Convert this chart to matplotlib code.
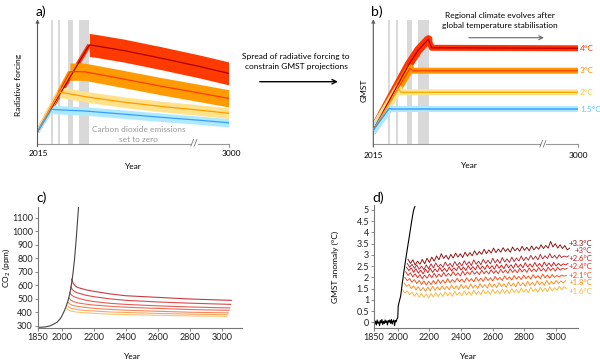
import matplotlib.pyplot as plt
import numpy as np
from matplotlib.patches import FancyArrowPatch
from matplotlib.ticker import FormatStrFormatter

plt.rcParams['font.family'] = ['Lato', 'DejaVu Sans']
plt.rcParams['mathtext.default'] = 'regular'

W, H = 600, 361
AXIS = '#555555'
LIGHT = '#999999'
BAR = '#d9d9d9'

# ---------- panel a: schematic radiative forcing (arbitrary units 0-100) ----------
a_bar_start = [6.9, 10.9, 16.1, 21.9]
a_bar_end = [7.9, 11.9, 18.7, 27.0]

a_blue_x = [0, 7.4, 9.5, 25, 45, 65, 85, 100]
a_blue_y = [9.6, 27.7, 27.4, 26.3, 23.8, 21.2, 18.8, 16.8]
a_yel_x = [0, 11.4, 14, 25, 45, 65, 85, 100]
a_yel_y = [9.6, 41.5, 41.0, 37.9, 33.5, 30.0, 27.0, 24.5]
a_org_x = [0, 17, 21, 25, 45, 65, 85, 100]
a_org_y = [9.6, 58.1, 58.2, 58.0, 52.2, 46.3, 40.8, 36.6]
a_red_x = [0, 27.1, 30, 45, 65, 85, 100]
a_red_y = [9.6, 79.8, 79.2, 75.3, 69.0, 62.3, 56.8]
a_halfwidth = [3.4, 4.3, 7.0, 9.3]   # blue, yellow, orange, red

# ---------- panel b: schematic GMST ----------
b_bar_start = [7.3, 11.1, 16.4, 22.0]
b_bar_end = [8.3, 12.2, 19.1, 27.2]

b_blue_x = [0, 7.8, 8.8, 100]
b_blue_y = [11.3, 28.8, 28.2, 28.2]
b_yel_x = [0, 12.2, 13.5, 100]
b_yel_y = [11.3, 44.4, 41.7, 41.7]
b_org_x = [0, 17.9, 19.5, 100]
b_org_y = [11.3, 61.0, 59.1, 59.1]
b_red_x = [0, 17.2, 22.0, 25.3, 26.9, 28.5, 100]
b_red_y = [11.3, 63.7, 75.8, 81.7, 84.4, 77.6, 77.2]
b_labels = ['1.5°C', '2°C', '3°C', '4°C']

# ---------- panel c: CO2 concentration ----------
c_hist_years = [1850, 1875, 1900, 1925, 1950, 1970, 1990, 2000, 2010, 2020, 2030,
                2040, 2050, 2060, 2070, 2080, 2090, 2100, 2105]
c_hist_ppm = [288, 289, 292, 298, 312, 325, 350, 370, 394, 420, 452,
              488, 535, 598, 682, 790, 930, 1090, 1175]

c_years_1 = [2062, 2072, 2087, 2100, 2150, 2200, 2300, 2400, 2600, 2800, 3000, 3060]
c_ppm_1 = [645, 615, 592, 583, 566, 555, 536, 522, 510, 498, 490, 488]
c_years_2 = [2056, 2066, 2081, 2100, 2150, 2200, 2300, 2400, 2600, 2800, 3000, 3056]
c_ppm_2 = [590, 568, 552, 543, 526, 515, 499, 488, 476, 467, 460, 458]
c_years_3 = [2051, 2061, 2076, 2100, 2150, 2200, 2300, 2400, 2600, 2800, 3000, 3051]
c_ppm_3 = [545, 528, 515, 505, 489, 479, 466, 458, 447, 439, 433, 432]
c_years_4 = [2046, 2056, 2071, 2100, 2150, 2200, 2300, 2400, 2600, 2800, 3000, 3046]
c_ppm_4 = [505, 490, 480, 469, 460, 453, 444, 437, 428, 420, 415, 414]
c_years_5 = [2041, 2051, 2066, 2100, 2150, 2200, 2300, 2400, 2600, 2800, 3000, 3041]
c_ppm_5 = [472, 460, 451, 443, 435, 429, 421, 415, 407, 400, 396, 395]
c_years_6 = [2036, 2046, 2061, 2100, 2150, 2200, 2300, 2400, 2600, 2800, 3000, 3036]
c_ppm_6 = [447, 436, 428, 419, 413, 409, 402, 398, 391, 386, 382, 381]
c_years_7 = [2030, 2040, 2055, 2100, 2150, 2200, 2300, 2400, 2600, 2800, 3000, 3030]
c_ppm_7 = [428, 417, 409, 400, 395, 392, 386, 382, 377, 373, 370, 369]

# ---------- panel d: GMST anomaly ----------
d_hist_years = [1850, 1855, 1860, 1865, 1870, 1875, 1880, 1885, 1890, 1895, 1900,
                1905, 1910, 1915, 1920, 1925, 1930, 1935, 1940, 1945, 1950, 1955,
                1960, 1965, 1970, 1975, 1980, 1985, 1990, 1995, 2000, 2003, 2008,
                2013, 2018, 2023, 2028, 2033, 2038, 2043, 2048, 2053, 2058, 2063,
                2068, 2073, 2078, 2083, 2088, 2093, 2098, 2103, 2108]
d_hist_temp = [0.00, -0.08, 0.05, -0.12, 0.10, -0.05, 0.02, -0.15, 0.08, -0.03, 0.12,
               -0.10, 0.04, -0.06, 0.10, -0.02, 0.06, -0.12, 0.08, 0.00, 0.10, -0.05,
               0.12, -0.08, 0.05, 0.10, -0.15, 0.08, 0.02, 0.15, 0.20, 0.72, 0.88,
               1.02, 1.15, 1.42, 1.72, 1.95, 2.22, 2.45, 2.70, 2.92, 3.15, 3.38,
               3.60, 3.82, 4.05, 4.28, 4.50, 4.72, 4.92, 5.05, 5.15]

d_starts = [2065, 2060, 2055, 2050, 2045, 2040, 2030]
d_run_33 = [2.80, 2.62, 2.78, 2.55, 2.72, 2.58, 2.80, 2.60, 2.85, 2.66, 2.90, 2.72, 2.95, 2.78,
            3.05, 2.84, 2.98, 2.80, 3.02, 2.86, 3.08, 2.90, 3.05, 2.88, 3.12, 2.94, 3.10, 2.96,
            3.18, 3.00, 3.15, 3.02, 3.25, 3.05, 3.22, 3.08, 3.30, 3.10, 3.26, 3.12, 3.32, 3.15,
            3.28, 3.12, 3.35, 3.18, 3.30, 3.16, 3.38, 3.20, 3.34, 3.18, 3.40, 3.22, 3.36, 3.25,
            3.45, 3.28, 3.42, 3.30, 3.60, 3.35, 3.50, 3.30, 3.45, 3.28, 3.42, 3.22, 3.30]
d_run_30 = [2.62, 2.45, 2.58, 2.40, 2.55, 2.36, 2.50, 2.34, 2.55, 2.38, 2.60, 2.42, 2.64, 2.46,
            2.58, 2.44, 2.68, 2.50, 2.62, 2.46, 2.70, 2.52, 2.66, 2.50, 2.74, 2.55, 2.70, 2.52,
            2.78, 2.58, 2.72, 2.56, 2.80, 2.62, 2.76, 2.60, 2.85, 2.64, 2.80, 2.62, 2.88, 2.68,
            2.82, 2.66, 2.90, 2.70, 2.86, 2.72, 2.95, 2.74, 2.90, 2.76, 2.98, 2.80, 2.94, 2.78,
            3.02, 2.82, 2.96, 2.84, 3.05, 2.86, 2.98, 2.84, 3.00, 2.88, 2.95, 2.90, 2.96]
d_run_26 = [2.45, 2.30, 2.42, 2.22, 2.38, 2.18, 2.32, 2.15, 2.36, 2.20, 2.40, 2.22, 2.38, 2.24,
            2.44, 2.26, 2.40, 2.25, 2.46, 2.28, 2.42, 2.30, 2.50, 2.32, 2.46, 2.30, 2.52, 2.34,
            2.48, 2.33, 2.55, 2.36, 2.50, 2.35, 2.56, 2.38, 2.52, 2.36, 2.58, 2.40, 2.54, 2.38,
            2.60, 2.42, 2.56, 2.40, 2.62, 2.44, 2.58, 2.42, 2.65, 2.46, 2.60, 2.45, 2.66, 2.48,
            2.62, 2.46, 2.68, 2.50, 2.64, 2.48, 2.66, 2.50, 2.62, 2.52, 2.60, 2.55, 2.62]
d_run_24 = [2.25, 2.08, 2.20, 2.02, 2.16, 1.98, 2.12, 1.94, 2.10, 1.96, 2.14, 1.98, 2.18, 2.00,
            2.15, 2.02, 2.22, 2.04, 2.18, 2.06, 2.25, 2.08, 2.20, 2.06, 2.28, 2.10, 2.24, 2.12,
            2.30, 2.14, 2.26, 2.12, 2.32, 2.16, 2.28, 2.15, 2.34, 2.18, 2.30, 2.16, 2.36, 2.20,
            2.32, 2.18, 2.38, 2.22, 2.34, 2.20, 2.40, 2.24, 2.36, 2.22, 2.42, 2.26, 2.38, 2.25,
            2.44, 2.28, 2.40, 2.26, 2.45, 2.30, 2.42, 2.28, 2.44, 2.32, 2.40, 2.36, 2.40]
d_run_21 = [2.00, 1.85, 1.95, 1.78, 1.90, 1.72, 1.86, 1.68, 1.84, 1.66, 1.82, 1.68, 1.86, 1.70,
            1.90, 1.72, 1.88, 1.74, 1.94, 1.76, 1.90, 1.78, 1.96, 1.80, 1.92, 1.78, 1.98, 1.82,
            1.94, 1.80, 2.00, 1.84, 1.96, 1.82, 2.02, 1.86, 1.98, 1.84, 2.04, 1.88, 2.00, 1.86,
            2.06, 1.90, 2.02, 1.88, 2.08, 1.92, 2.04, 1.90, 2.10, 1.94, 2.06, 1.92, 2.12, 1.96,
            2.08, 1.94, 2.14, 1.98, 2.10, 1.96, 2.12, 2.00, 2.08, 2.02, 2.10, 2.05, 2.08]
d_run_18 = [1.75, 1.60, 1.68, 1.50, 1.62, 1.44, 1.58, 1.40, 1.55, 1.38, 1.56, 1.40, 1.60, 1.42,
            1.58, 1.44, 1.62, 1.46, 1.60, 1.45, 1.65, 1.48, 1.62, 1.46, 1.68, 1.50, 1.64, 1.48,
            1.70, 1.52, 1.66, 1.50, 1.72, 1.54, 1.68, 1.52, 1.74, 1.56, 1.70, 1.54, 1.76, 1.58,
            1.72, 1.56, 1.78, 1.60, 1.74, 1.58, 1.80, 1.62, 1.76, 1.60, 1.82, 1.64, 1.78, 1.62,
            1.85, 1.66, 1.80, 1.64, 1.86, 1.68, 1.82, 1.70, 1.86, 1.72, 1.84, 1.75, 1.85]
d_run_16 = [1.45, 1.30, 1.40, 1.22, 1.34, 1.16, 1.30, 1.12, 1.28, 1.10, 1.26, 1.08, 1.28, 1.12,
            1.32, 1.14, 1.30, 1.15, 1.35, 1.18, 1.32, 1.16, 1.38, 1.20, 1.34, 1.18, 1.40, 1.22,
            1.36, 1.20, 1.42, 1.24, 1.38, 1.22, 1.44, 1.26, 1.40, 1.24, 1.46, 1.28, 1.42, 1.26,
            1.48, 1.30, 1.44, 1.28, 1.50, 1.32, 1.46, 1.30, 1.52, 1.34, 1.48, 1.32, 1.55, 1.36,
            1.50, 1.34, 1.56, 1.38, 1.52, 1.36, 1.58, 1.40, 1.54, 1.42, 1.60, 1.45, 1.58, 1.50]
d_step = 15
d_labels = ['+3.3°C', '+3°C', '+2.6°C', '+2.4°C', '+2.1°C', '+1.8°C', '+1.6°C']

c_colors = ['#c93a40', '#d84a4c', '#e65c52', '#ef6e56', '#f5885a', '#f9a662', '#fcc46c']
d_colors = ['#8e0a0a', '#b3262f', '#cf1717', '#e8281a', '#ff4a12', '#ff8c1c', '#ffb536']

FS = 6


def fy(y):
    return 1 - y / H


def px_axes(left, top, right, bottom):
    return fig.add_axes([left / W, 1 - bottom / H, (right - left) / W, (bottom - top) / H])


def ftext(x, y, s, **kw):
    kw.setdefault('fontsize', FS)
    kw.setdefault('ha', 'center')
    kw.setdefault('va', 'center')
    fig.text(x / W, fy(y), s, **kw)


def schematic_axis(ax, brk0, brk1):
    ax.set_xlim(0, 100)
    ax.set_ylim(0, 100)
    ax.axis('off')
    ax.plot([0, brk0], [0, 0], color=LIGHT, lw=0.8, clip_on=False)
    ax.plot([brk1, 100], [0, 0], color=LIGHT, lw=0.8, clip_on=False)
    ax.plot([100, 100], [0, -2.5], color=LIGHT, lw=0.8, clip_on=False)
    ax.text((brk0 + brk1) / 2, 0, '//', ha='center', va='center', fontsize=7, color=AXIS)
    ax.annotate('', xy=(0, 100.5), xytext=(0, -2.5), annotation_clip=False,
                arrowprops=dict(arrowstyle='->', color=AXIS, lw=0.8, mutation_scale=5,
                                shrinkA=0, shrinkB=0))


fig = plt.figure(figsize=(6, 3.61), dpi=100)

# ---------------- panel a ----------------
axa = px_axes(37.5, 20, 228.5, 143.5)
schematic_axis(axa, 79.8, 84.2)
for x0, x1 in zip(a_bar_start, a_bar_end):
    axa.axvspan(x0, x1, color=BAR, lw=0, zorder=0)
scen_a = [(a_red_x, a_red_y, a_halfwidth[3], '#ff3a00', '#a80000'),
          (a_org_x, a_org_y, a_halfwidth[2], '#ff9a00', '#ff3b00'),
          (a_yel_x, a_yel_y, a_halfwidth[1], '#ffe28a', '#ff9a00'),
          (a_blue_x, a_blue_y, a_halfwidth[0], '#aeeaff', '#3a9cff')]
for x, y, hw, band, line in scen_a:
    x = np.array(x)
    y = np.array(y)
    axa.plot(x[:2], y[:2], color=band, lw=3, solid_capstyle='butt', zorder=2)
    axa.fill_between(x[1:], y[1:] - hw, y[1:] + hw, color=band, lw=0, zorder=2)
for x, y, hw, band, line in scen_a:
    axa.plot(x, y, color=line, lw=0.9, zorder=3)
axa.text(53, 7.5, 'Carbon dioxide emissions\nset to zero', ha='center', va='center',
         fontsize=FS, color=LIGHT, linespacing=1.45)

ftext(41, 11.5, 'a)', fontsize=10)
ftext(18, 85, 'Radiative forcing', rotation=90)
ftext(38, 154, '2015')
ftext(231, 154, '3000')
ftext(133, 166, 'Year')

# ---------------- middle arrow ----------------
ftext(296, 57, 'Spread of radiative forcing to')
ftext(296, 67, 'constrain GMST projections')
fig.add_artist(FancyArrowPatch((257 / W, fy(81.7)), (340.7 / W, fy(81.7)),
                               transform=fig.transFigure, arrowstyle='->',
                               mutation_scale=8, lw=1.0, color='black'))

# ---------------- panel b ----------------
axb = px_axes(373.3, 20, 578, 144)
schematic_axis(axb, 81.4, 84.4)
for x0, x1 in zip(b_bar_start, b_bar_end):
    axb.axvspan(x0, x1, color=BAR, lw=0, zorder=0)
scen_b = [(b_red_x, b_red_y, '#ff3300', '#c00000', '#ff3300'),
          (b_org_x, b_org_y, '#ff9900', '#ff4400', '#ff8c00'),
          (b_yel_x, b_yel_y, '#ffe58f', '#ffaa00', '#ffc83a'),
          (b_blue_x, b_blue_y, '#aee8ff', '#3399ff', '#5cc8ff')]
for (x, y, band, line, lab_col), lab in zip(scen_b, b_labels[::-1]):
    x = np.array(x)
    y = np.array(y)
    k = int(np.argmax(y)) + 1
    axb.plot(x[:k], y[:k], color=band, lw=6, solid_capstyle='round', zorder=2)
    axb.plot(x[k - 1:], y[k - 1:], color=band, lw=4.3, solid_capstyle='butt',
             solid_joinstyle='round', zorder=2)
    axb.plot(x, y, color=line, lw=1.0, zorder=3)
    axb.text(101, y[-1], lab, ha='left', va='center', fontsize=FS, color=lab_col)

ftext(377, 11.5, 'b)', fontsize=10)
ftext(364, 90, 'GMST', rotation=90)
ftext(373, 155, '2015')
ftext(578, 155, '3000')
ftext(469, 165, 'Year')
ftext(500, 15.7, 'Regional climate evolves after')
ftext(500, 25.7, 'global temperature stabilisation')
fig.add_artist(FancyArrowPatch((466 / W, fy(37.7)), (546.7 / W, fy(37.7)),
                               transform=fig.transFigure, arrowstyle='->',
                               mutation_scale=7, lw=0.8, color='#666666'))


def style_axes(ax):
    for s in ['top', 'right']:
        ax.spines[s].set_visible(False)
    for s in ['left', 'bottom']:
        ax.spines[s].set_color('#777777')
        ax.spines[s].set_linewidth(0.8)
    ax.tick_params(direction='out', length=2, width=0.6, color='#777777',
                   labelsize=6.5, pad=1.5, labelcolor='#222222')


# ---------------- panel c ----------------
axc = px_axes(37.7, 206.7, 241.7, 328.3)
style_axes(axc)
c_runs = [(c_years_1, c_ppm_1), (c_years_2, c_ppm_2), (c_years_3, c_ppm_3),
          (c_years_4, c_ppm_4), (c_years_5, c_ppm_5), (c_years_6, c_ppm_6),
          (c_years_7, c_ppm_7)]
for (yrs, ppm), col in zip(c_runs, c_colors):
    axc.plot(yrs, ppm, color=col, lw=0.8)
axc.plot(c_hist_years, c_hist_ppm, color='#444444', lw=0.8)
axc.set_xlim(1850, 3125)
axc.set_ylim(281, 1181)
axc.set_xticks([1850, 2000, 2200, 2400, 2600, 2800, 3000])
axc.set_yticks(range(300, 1101, 100))
axc.set_ylabel('CO$_2$ (ppm)', fontsize=FS)
axc.yaxis.set_label_coords(-0.125, 0.5)
axc.set_xlabel('Year', fontsize=FS)
axc.xaxis.set_label_coords(0.466, -0.2)
ftext(42, 197.5, 'c)', fontsize=10)

# ---------------- panel d ----------------
axd = px_axes(374, 205, 578.3, 328.3)
style_axes(axd)
d_runs = [d_run_33, d_run_30, d_run_26, d_run_24, d_run_21, d_run_18, d_run_16]
for start, run, col in list(zip(d_starts, d_runs, d_colors))[::-1]:
    yrs = start + d_step * np.arange(len(run))
    axd.plot(yrs, run, color=col, lw=0.65)
axd.plot(d_hist_years, d_hist_temp, color='black', lw=0.8)
axd.set_xlim(1850, 3140)
axd.set_ylim(-0.27, 5.22)
axd.set_xticks([1850, 2000, 2200, 2400, 2600, 2800, 3000])
axd.set_yticks(np.arange(0, 5.01, 0.5))
axd.yaxis.set_major_formatter(FormatStrFormatter('%g'))
axd.set_ylabel('GMST anomaly (°C)', fontsize=FS)
axd.yaxis.set_label_coords(-0.171, 0.5)
axd.set_xlabel('Year', fontsize=FS)
axd.xaxis.set_label_coords(0.46, -0.2)
ftext(378, 197.5, 'd)', fontsize=10)

d_label_y = [243.3, 250.7, 258.3, 266.7, 275, 282.7, 291]
for lab, yy, col in zip(d_labels, d_label_y, d_colors):
    ftext(592, yy, lab, ha='right', color=col, fontsize=5.6)

fig.savefig('out.png', dpi=100)
